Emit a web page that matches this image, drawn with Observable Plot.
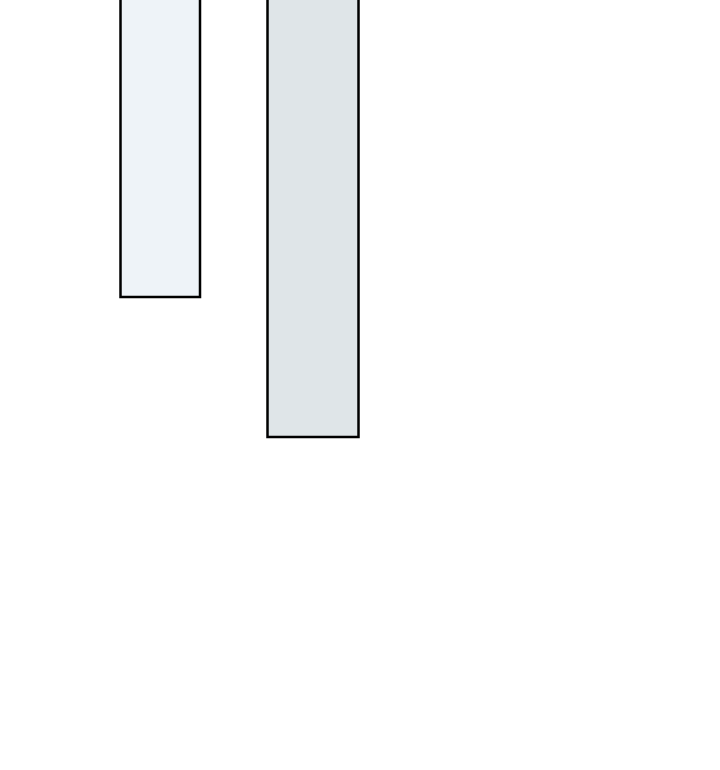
<!DOCTYPE html>
<html>
<head>
<meta charset="utf-8">
<script src="https://cdn.jsdelivr.net/npm/d3@7"></script>
<script src="https://cdn.jsdelivr.net/npm/@observablehq/plot@0.6"></script>
<style>
  html, body { margin: 0; padding: 0; background: #fff; overflow: hidden; }
  #chart svg { display: block; }
</style>
</head>
<body>
<div id="chart"></div>
<script>
const categories = ["A", "B"];
const starts = [12.05, 26.75];
const ends = [20.0, 35.85];
const values = [29.7, 43.7];
const fills = ["#eef3f8", "#dfe5e8"];

const data = categories.map((c, i) => ({
  category: c, x1: starts[i], x2: ends[i], top: -2, value: values[i], fill: fills[i]
}));

const chart = Plot.plot({
  width: 720,
  height: 770,
  margin: 0,
  x: {domain: [0, 72], axis: null},
  y: {domain: [0, 77], reverse: true, axis: null},
  marks: [
    Plot.rect(data, {
      x1: "x1", x2: "x2", y1: "top", y2: "value",
      fill: "fill", stroke: "black", strokeWidth: 2.5, clip: true
    })
  ]
});
document.getElementById("chart").appendChild(chart);
</script>
</body>
</html>
